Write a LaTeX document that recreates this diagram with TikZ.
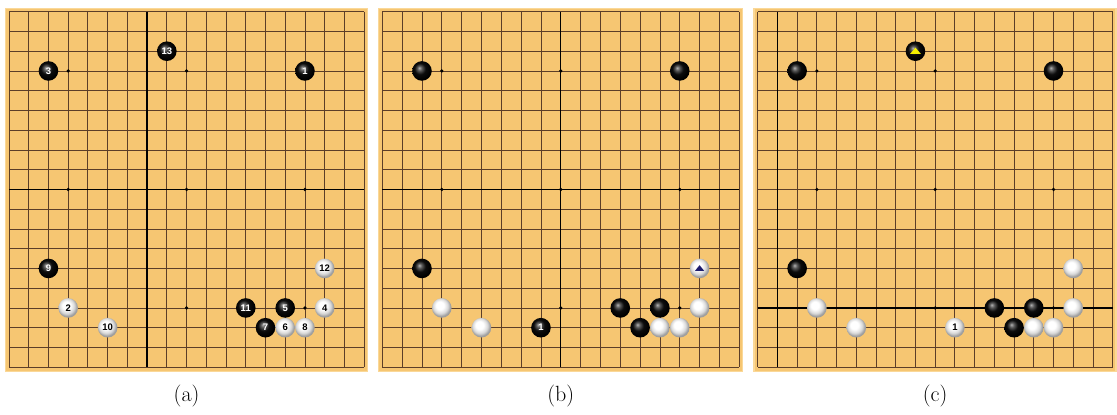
\documentclass[tikz,border=0pt]{standalone}
\usepackage{fontspec}
\newfontfamily\numfont{Liberation Sans}
\definecolor{wood}{RGB}{246,198,114}
\definecolor{woodframe}{RGB}{250,216,152}
\definecolor{gridcol}{RGB}{92,62,40}
\definecolor{marknavy}{RGB}{28,28,110}
\definecolor{markyellow}{RGB}{246,240,0}
\pgfdeclareradialshading{bstoneshade}{\pgfpoint{-7bp}{8bp}}{color(0bp)=(black!30); color(6bp)=(black!65); color(14bp)=(black!95); color(25bp)=(black); color(50bp)=(black)}
\pgfdeclareradialshading{wstoneshade}{\pgfpoint{-6bp}{8bp}}{color(0bp)=(white); color(10bp)=(white); color(19bp)=(black!15); color(25bp)=(black!38); color(50bp)=(black!45)}
\begin{document}
\begin{tikzpicture}[x=1pt,y=-1pt,
  gridline/.style={draw=gridcol, line width=0.85pt, line cap=square},
  thickline/.style={draw=black, line width=1.25pt},
  b-stone/.style={circle, inner sep=0pt, minimum size=19.6pt, shading=bstoneshade, text=white, font=\numfont\bfseries\fontsize{9.5}{9.5}\selectfont},
  w-stone/.style={circle, inner sep=0pt, minimum size=19.6pt, shading=wstoneshade, text=black, font=\numfont\bfseries\fontsize{9.5}{9.5}\selectfont},
  caption/.style={font=\fontsize{22}{26}\selectfont, inner sep=0pt}]
\useasboundingbox (0,0) rectangle (1117,415);
\fill[white] (0,0) rectangle (1117,415);
% boards
\foreach \bn/\bx/\sx/\tc/\tr in {a/9/19.73/8/10, b/382.3/19.83/10/10, c/757.7/19.72/2/16}{
  \pgfmathsetmacro\bxr{\bx+18*\sx}
  \fill[woodframe] (\bx-4.5,7.5) rectangle (\bxr+4,372);
  \fill[wood] (\bx-3,9) rectangle (\bxr+2.5,370.5);
  \foreach \i in {0,...,18}{
    \draw[gridline] ({\bx+\i*\sx},11.7) -- ({\bx+\i*\sx},367.2);
    \draw[gridline] (\bx,{11.7+\i*19.75}) -- (\bxr,{11.7+\i*19.75});
  }
  \draw[thickline] ({\bx+(\tc-1)*\sx},11.7) -- ({\bx+(\tc-1)*\sx},367.2);
  \draw[thickline] (\bx,{11.7+(\tr-1)*19.75}) -- (\bxr,{11.7+(\tr-1)*19.75});
  \foreach \p in {4,10,16}{\foreach \q in {4,10,16}{
    \fill[black] ({\bx+(\p-1)*\sx},{11.7+(\q-1)*19.75}) circle[radius=1.8];
  }}
  \node[caption] (lab-\bn) at ({\bx+9*\sx},396.5) {(\bn)};
}
% board (a) stones
\foreach \c/\r/\s/\t in {3/4/b/3, 9/3/b/13, 16/4/b/1, 3/14/b/9, 4/16/w/2, 6/17/w/10, 13/16/b/11, 15/16/b/5, 14/17/b/7, 15/17/w/6, 16/17/w/8, 17/16/w/4, 17/14/w/12}
  \node[\s-stone] (a-\c-\r) at ({9+(\c-1)*19.73},{11.7+(\r-1)*19.75}) {\t};
% board (b) stones
\foreach \c/\r/\s/\t in {3/4/b/, 16/4/b/, 3/14/b/, 4/16/w/, 6/17/w/, 9/17/b/1, 13/16/b/, 15/16/b/, 14/17/b/, 15/17/w/, 16/17/w/, 17/16/w/, 17/14/w/}
  \node[\s-stone] (b-\c-\r) at ({382.3+(\c-1)*19.83},{11.7+(\r-1)*19.75}) {\t};
% board (c) stones
\foreach \c/\r/\s/\t in {3/4/b/, 9/3/b/, 16/4/b/, 3/14/b/, 4/16/w/, 6/17/w/, 11/17/w/1, 13/16/b/, 15/16/b/, 14/17/b/, 15/17/w/, 16/17/w/, 17/16/w/, 17/14/w/}
  \node[\s-stone] (c-\c-\r) at ({757.7+(\c-1)*19.72},{11.7+(\r-1)*19.75}) {\t};
% marks
\fill[marknavy] (b-17-14.center) ++(-4.5,2.3) -- ++(9,0) -- ++(-4.5,-5.6) -- cycle;
\fill[markyellow] (c-9-3.center) ++(-5.3,2.6) -- ++(10.6,0) -- ++(-5.3,-6.2) -- cycle;
\end{tikzpicture}
\end{document}
